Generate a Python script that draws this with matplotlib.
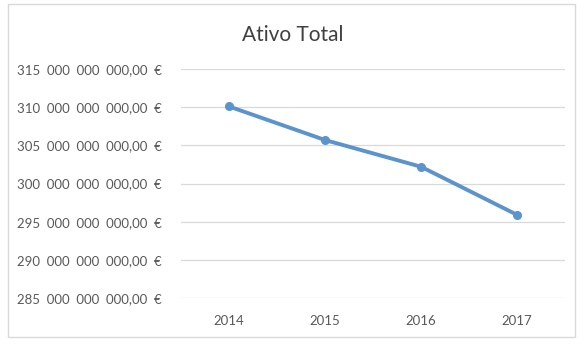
import matplotlib
matplotlib.use('Agg')
import matplotlib.pyplot as plt
from matplotlib.patches import Rectangle

# data
years = ['2014', '2015', '2016', '2017']
ativo_total = [310.1e9, 305.7e9, 302.2e9, 295.9e9]
y_ticks = [285e9, 290e9, 295e9, 300e9, 305e9, 310e9, 315e9]


def euro_label(v):
    s = '{:,.2f}'.format(v)            # 315,000,000,000.00
    s = s.replace(',', '  ').replace('.', ',')
    return s + '  €'


plt.rcParams['font.family'] = ['Lato', 'DejaVu Sans']

fig = plt.figure(figsize=(5.84, 3.47), dpi=100)
ax = fig.add_axes([0.310, 0.1412, 0.6575, 0.6598])

# chart border
fig.patches.append(Rectangle((8 / 584, 10 / 347), 567 / 584, 333 / 347,
                             transform=fig.transFigure, fill=False,
                             edgecolor='#d9d9d9', lw=1.0))

x = range(len(years))
ax.plot(x, ativo_total, color='#5b93cc', lw=2.8, marker='o', markersize=5.5,
        solid_capstyle='round', zorder=3)

ax.set_xlim(-0.5, len(years) - 0.5)
ax.set_ylim(y_ticks[0], y_ticks[-1])
ax.set_xticks(list(x))
ax.set_xticklabels(years)
ax.set_yticks(y_ticks)
ax.set_yticklabels([euro_label(v) for v in y_ticks])

ax.tick_params(length=0, labelsize=9.5, colors='#595959')
ax.tick_params(axis='y', pad=14)
ax.tick_params(axis='x', pad=12)
ax.grid(axis='y', color='#d9d9d9', lw=0.9)
ax.set_axisbelow(True)
for sp in ax.spines.values():
    sp.set_visible(False)

fig.text(0.502, 0.90, 'Ativo Total', ha='center', va='center',
         fontsize=15, color='#404040')

fig.savefig('out.png', dpi=100)
